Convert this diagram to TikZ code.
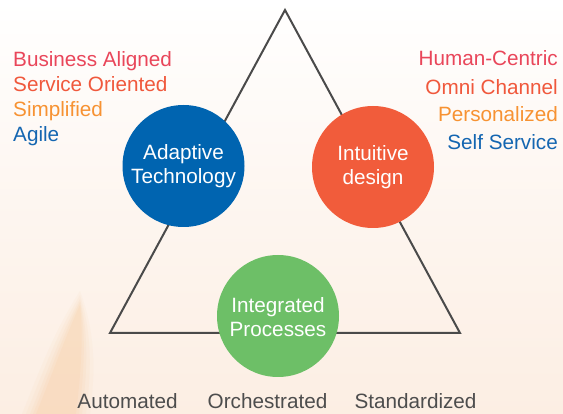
\documentclass[tikz,border=0pt]{standalone}
\usepackage{fontspec}
\setmainfont{Liberation Sans}
\definecolor{bgpeach}{HTML}{FCEEE3}
\definecolor{streak}{HTML}{F9B878}
\definecolor{edgegray}{HTML}{4A4A4A}
\definecolor{labelgray}{HTML}{4D4D4D}
\definecolor{tonepink}{HTML}{E9465A}
\definecolor{tonered}{HTML}{F0583C}
\definecolor{toneorange}{HTML}{F79232}
\definecolor{toneblue}{HTML}{1466B1}
\definecolor{discblue}{HTML}{0064B0}
\definecolor{discorange}{HTML}{F15C3B}
\definecolor{discgreen}{HTML}{6DBF67}
\begin{document}
\begin{tikzpicture}[x=1pt,y=-1pt,
  txt/.style={font=\fontsize{20.7}{24}\selectfont, inner sep=0pt},
  disc/.style={circle, minimum size=122pt, inner sep=0pt, draw=none},
  disctext/.style={txt, text=white, align=center},
  leftitem/.style={txt, anchor=base west},
  rightitem/.style={txt, anchor=base east},
  bottomitem/.style={txt, anchor=base, text=labelgray},
  edge/.style={draw=edgegray, line width=2pt, line join=miter}]

  % canvas with a soft peach wash towards the bottom
  \useasboundingbox (0,0) rectangle (563,414);
  \shade[top color=white, bottom color=bgpeach, middle color=bgpeach!55] (0,0) rectangle (563,414);

  % faint, soft orange streak at the lower left (stacked translucent layers)
  \foreach \g/\o in {14/0.05, 10/0.06, 6/0.07, 3/0.08, 0/0.09}
    \fill[streak, opacity=\o]
      (80,{305-\g}) .. controls ({84+\g},340) and ({80+\g},380) .. ({76+\g},414)
      -- ({36-\g},414) .. controls ({52-\g},375) and ({66-\g},335) .. cycle;

  % triangle frame
  \coordinate (apex) at (285,10);
  \coordinate (bl) at (110,333);
  \coordinate (br) at (460,333);
  \draw[edge] (apex) -- (bl) -- (br) -- cycle;

  % the three discs
  \node[disc, fill=discblue]   (tech)    at (183.5,166) {};
  \node[disc, fill=discorange] (design)  at (373,167) {};
  \node[disc, fill=discgreen]  (process) at (278,316) {};

  \node[disctext] (techlbl)    at (tech.center)    {Adaptive\\Technology};
  \node[disctext] (designlbl)  at (design.center)  {Intuitive\\design};
  \node[disctext] (processlbl) at ([yshift=-1pt]process.center) {Integrated\\Processes};

  % attributes of the technology side
  \node[leftitem, text=tonepink]   (l1) at (13,67)  {Business Aligned};
  \node[leftitem, text=tonered]    (l2) at (13,92)  {Service Oriented};
  \node[leftitem, text=toneorange] (l3) at (13,117) {Simplified};
  \node[leftitem, text=toneblue]   (l4) at (13,142) {Agile};

  % attributes of the design side
  \node[rightitem, text=tonepink]   (r1) at (558,66)  {Human-Centric};
  \node[rightitem, text=tonered]    (r2) at (558,95)  {Omni Channel};
  \node[rightitem, text=toneorange] (r3) at (558,122) {Personalized};
  \node[rightitem, text=toneblue]   (r4) at (558,150) {Self Service};

  % attributes of the process side
  \node[bottomitem] (b1) at (127.5,409) {Automated};
  \node[bottomitem] (b2) at (267.5,409) {Orchestrated};
  \node[bottomitem] (b3) at (415.5,409) {Standardized};
\end{tikzpicture}
\end{document}
